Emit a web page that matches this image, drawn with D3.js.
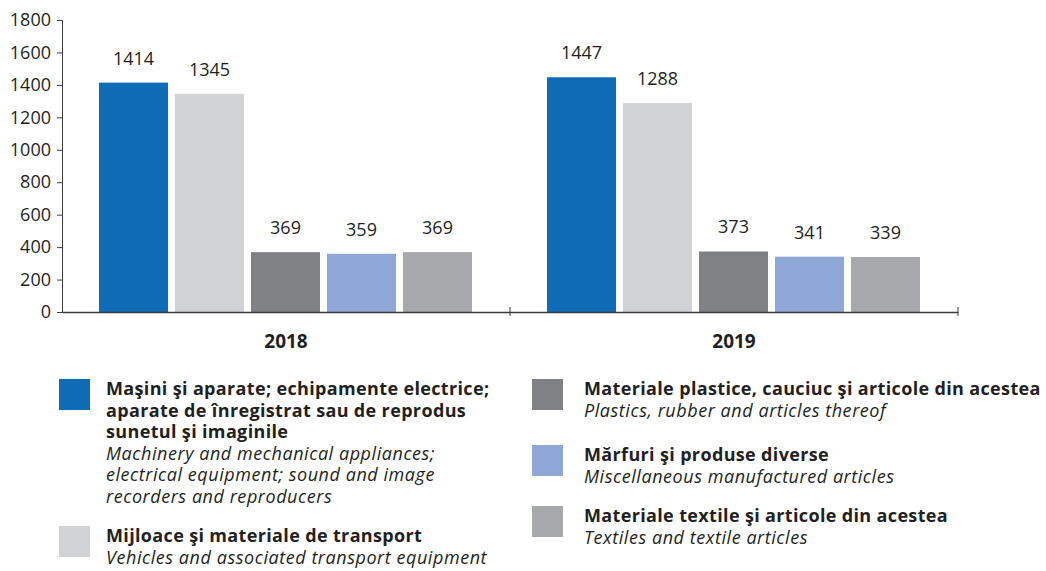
<!DOCTYPE html>
<html>
<head>
<meta charset="utf-8">
<script src="https://cdn.jsdelivr.net/npm/d3@7"></script>
<style>
  body { margin: 0; background: #fff; }
  svg text { font-family: "Open Sans", sans-serif; fill: #231f20; }
</style>
</head>
<body>
<div id="chart"></div>
<script>
// data
var years = ["2018", "2019"];
var categories = ["masini", "transport", "plastice", "diverse", "textile"];
var values2018 = [1414, 1345, 369, 359, 369];
var values2019 = [1447, 1288, 373, 341, 339];
var yTicks = [0, 200, 400, 600, 800, 1000, 1200, 1400, 1600, 1800];
var colors = ["#0e6bb5", "#d1d2d4", "#808184", "#8ea7d6", "#a7a8ab"];

var legendRo = [
  ["Maşini şi aparate; echipamente electrice;", "aparate de înregistrat sau de reprodus", "sunetul şi imaginile"],
  ["Mijloace şi materiale de transport"],
  ["Materiale plastice, cauciuc şi articole din acestea"],
  ["Mărfuri şi produse diverse"],
  ["Materiale textile şi articole din acestea"]
];
var legendEn = [
  ["Machinery and mechanical appliances;", "electrical equipment; sound and image", "recorders and reproducers"],
  ["Vehicles and associated transport equipment"],
  ["Plastics, rubber and articles thereof"],
  ["Miscellaneous manufactured articles"],
  ["Textiles and textile articles"]
];

var width = 1046, height = 571;
var svg = d3.select("#chart").append("svg")
  .attr("width", width)
  .attr("height", height);

var x0 = d3.scaleBand().domain(years).range([62, 958]);
var x1 = d3.scaleBand().domain(categories).range([37, 410]).paddingInner(0.092);
var y = d3.scaleLinear().domain([0, 1800]).range([312, 20]);

var series = { "2018": values2018, "2019": values2019 };

// y axis
var yAxis = d3.axisLeft(y).tickValues(yTicks).tickFormat(d3.format("d")).tickSize(5).tickPadding(6);
var gy = svg.append("g").attr("transform", "translate(62,0)").call(yAxis);
gy.select(".domain").attr("stroke", "#3c3c3c");
gy.selectAll(".tick line").attr("stroke", "#3c3c3c");
gy.selectAll(".tick text").style("font-size", "18px").attr("fill", "#231f20");

// bars
var groups = svg.selectAll("g.year")
  .data(years)
  .enter().append("g")
  .attr("class", "year")
  .attr("transform", function(d) { return "translate(" + x0(d) + ",0)"; });

groups.selectAll("rect")
  .data(function(yr) { return series[yr].map(function(v, i) { return { cat: categories[i], v: v, i: i }; }); })
  .enter().append("rect")
  .attr("x", function(d) { return x1(d.cat); })
  .attr("y", function(d) { return y(d.v); })
  .attr("width", x1.bandwidth())
  .attr("height", function(d) { return y(0) - y(d.v); })
  .attr("fill", function(d) { return colors[d.i]; });

groups.selectAll("text.val")
  .data(function(yr) { return series[yr].map(function(v, i) { return { cat: categories[i], v: v }; }); })
  .enter().append("text")
  .attr("class", "val")
  .attr("x", function(d) { return x1(d.cat) + x1.bandwidth() / 2; })
  .attr("y", function(d) { return y(d.v) - 18; })
  .attr("text-anchor", "middle")
  .style("font-size", "18px")
  .text(function(d) { return d.v; });

// x axis
var xAxis = d3.axisBottom(x0).tickSize(0).tickFormat("");
var gx = svg.append("g").attr("transform", "translate(0,312)").call(xAxis);
gx.select(".domain").attr("stroke", "#3c3c3c").attr("stroke-width", 1.3);
gx.selectAll(".tick").remove();
// group separators
gx.selectAll("line.sep")
  .data([x0("2019"), x0.range()[1]])
  .enter().append("line")
  .attr("class", "sep")
  .attr("x1", function(d) { return d; })
  .attr("x2", function(d) { return d; })
  .attr("y1", -5).attr("y2", 4)
  .attr("stroke", "#3c3c3c");

svg.selectAll("text.year")
  .data(years)
  .enter().append("text")
  .attr("class", "year")
  .attr("x", function(d) { return x0(d) + x0.bandwidth() / 2; })
  .attr("y", 348)
  .attr("text-anchor", "middle")
  .style("font-size", "19px")
  .style("font-weight", "bold")
  .text(function(d) { return d; });

// legend
var legendPos = [
  { x: 59, y: 379 }, { x: 59, y: 526 },
  { x: 532, y: 379 }, { x: 532, y: 445 }, { x: 532, y: 506 }
];
var lineH = 21.6;

var leg = svg.selectAll("g.leg")
  .data(categories)
  .enter().append("g")
  .attr("class", "leg")
  .attr("transform", function(d, i) { return "translate(" + legendPos[i].x + "," + legendPos[i].y + ")"; });

leg.append("rect")
  .attr("width", 31).attr("height", 31)
  .attr("fill", function(d, i) { return colors[i]; });

// one text block per entry, a tspan per line
leg.each(function(d, i) {
  var tx = i < 2 ? 47 : 52;
  var lines = legendRo[i].map(function(t) { return { t: t, b: true }; })
    .concat(legendEn[i].map(function(t) { return { t: t, b: false }; }));
  d3.select(this).append("text")
    .attr("y", 16)
    .style("font-size", "18px")
    .selectAll("tspan")
    .data(lines)
    .enter().append("tspan")
    .attr("x", tx)
    .attr("dy", function(l, k) { return k == 0 ? 0 : lineH; })
    .style("font-weight", function(l) { return l.b ? "bold" : "normal"; })
    .style("font-style", function(l) { return l.b ? "normal" : "italic"; })
    .style("letter-spacing", function(l) { return l.b ? "0.35px" : "0.55px"; })
    .text(function(l) { return l.t; });
});
</script>
</body>
</html>
